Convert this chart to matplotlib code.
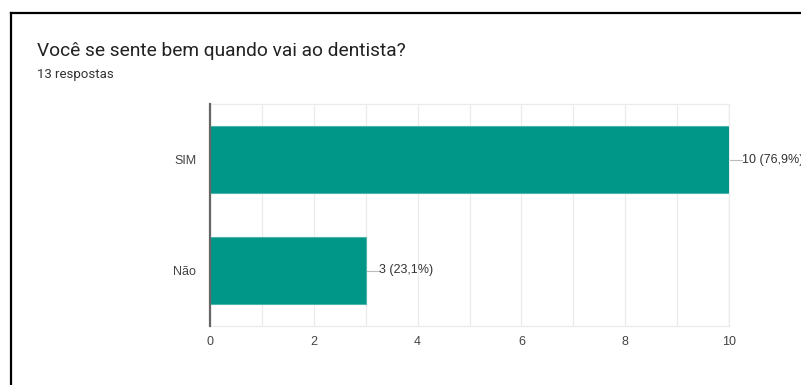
import matplotlib.pyplot as plt
from matplotlib.lines import Line2D

categorias = ["SIM", "Não"]
valores = [10, 3]
rotulos = ["10 (76,9%)", "3 (23,1%)"]
ticks_x = [0, 2, 4, 6, 8, 10]

plt.rcParams['font.family'] = ['Roboto', 'DejaVu Sans']
fonte_rot = ['Liberation Sans', 'DejaVu Sans']

fig = plt.figure(figsize=(8.01, 3.85), dpi=100)
ax = fig.add_axes([210/801, 1-326/385, 519/801, 222/385])

pos = list(range(len(categorias)))
ax.barh(pos, valores, height=0.6, color="#009688", edgecolor="#4db6ac", linewidth=0.8, zorder=3)

ax.set_xlim(0, 10)
ax.set_ylim(len(categorias)-0.5, -0.5)
ax.set_yticks(pos)
ax.set_yticklabels(categorias, family=fonte_rot)
ax.set_xticks(ticks_x)
ax.set_xticklabels([str(t) for t in ticks_x], family=fonte_rot)
ax.set_xticks(range(0, 11), minor=True)
ax.tick_params(axis='both', length=0, labelsize=9, colors="#444444")
ax.tick_params(axis='x', pad=7)
ax.tick_params(axis='y', pad=10)
ax.tick_params(which='minor', length=0)
ax.grid(axis='x', which='both', color="#ebebeb", linewidth=0.9, zorder=0)

for s in ['top', 'bottom', 'right']:
    ax.spines[s].set_color("#ebebeb")
    ax.spines[s].set_linewidth(0.9)
ax.spines['left'].set_color("#666666")
ax.spines['left'].set_linewidth(1.6)
ax.spines['left'].set_zorder(4)

for p, v, r in zip(pos, valores, rotulos):
    ax.plot([v, v + 0.25], [p, p], color="#bbbbbb", linewidth=0.8, zorder=2, clip_on=False)
    ax.text(v + 0.25, p, r, va='center', ha='left', fontsize=9, color="#333333",
            family=fonte_rot, clip_on=False)

fig.text(37/801, 1-56/385, "Você se sente bem quando vai ao dentista?", fontsize=13.8, color="#222222", va='baseline')
fig.text(37/801, 1-78/385, "13 respostas", fontsize=9.5, color="#333333", va='baseline')

# moldura preta (so topo e esquerda)
fig.add_artist(Line2D([10.5/801, 1], [1-12.5/385, 1-12.5/385], color="black", linewidth=1.6))
fig.add_artist(Line2D([10.5/801, 10.5/801], [0, 1-12.5/385], color="black", linewidth=1.6))

fig.savefig("out.png", dpi=100)
